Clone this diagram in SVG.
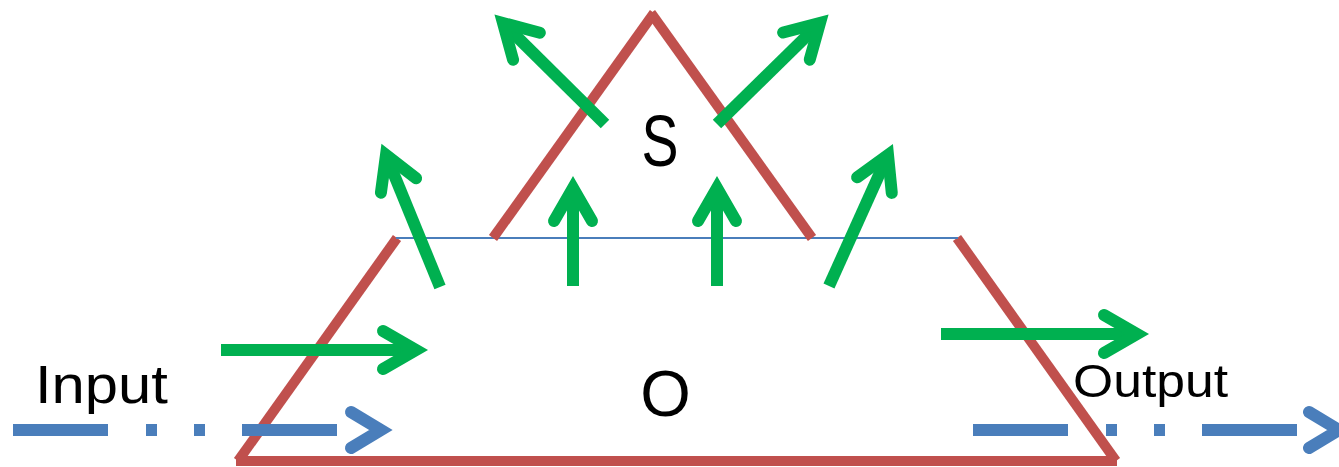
<svg xmlns="http://www.w3.org/2000/svg" width="1339" height="467" viewBox="0 0 1339 467">
  <style>
    .red { stroke: #c0504d; stroke-width: 10; fill: none; stroke-linecap: butt; }
    .base { stroke: #4a7ebb; stroke-width: 2; fill: none; }
    .g { stroke: #00b050; stroke-width: 12; fill: none; stroke-linecap: butt; }
    .blue { stroke: #4a7ebb; stroke-width: 12; fill: none; stroke-linecap: butt; stroke-dasharray: 95 38 11 37 11 37; }
    .bhead { stroke: #4a7ebb; stroke-width: 12; fill: none; stroke-linecap: round; stroke-linejoin: miter; stroke-miterlimit: 10; }
    .lbl { font-family: "Liberation Sans", Arial, sans-serif; fill: #000; }
  </style>
  <defs>
    <marker id="gh" markerUnits="userSpaceOnUse" orient="auto" refX="0" refY="0" markerWidth="1" markerHeight="1" overflow="visible">
      <path d="M-33,-19 L0,0 L-33,19" fill="none" stroke="#00b050" stroke-width="12" stroke-linecap="round" stroke-linejoin="miter" stroke-miterlimit="10"/>
    </marker>
  </defs>

  <g id="node-O">
    <line class="red" x1="397" y1="238" x2="238" y2="461"/>
    <line class="red" x1="236" y1="461" x2="1117" y2="461"/>
    <line class="red" x1="957" y1="238" x2="1116" y2="461"/>
    <line class="base" x1="396" y1="238" x2="958" y2="238"/>
    <text class="lbl" x="665.5" y="416" font-size="65" text-anchor="middle">O</text>
  </g>

  <g id="node-S">
    <line class="red" x1="493" y1="238" x2="654" y2="13"/>
    <line class="red" x1="651" y1="13" x2="812" y2="238"/>
    <text class="lbl" transform="translate(660,166) scale(0.76,1)" x="0" y="0" font-size="73" text-anchor="middle">S</text>
  </g>

  <g id="node-input">
    <text class="lbl" x="35" y="403" font-size="53" textLength="133" lengthAdjust="spacingAndGlyphs">Input</text>
  </g>

  <g id="node-output">
    <text class="lbl" x="1073" y="397" font-size="47" textLength="155" lengthAdjust="spacingAndGlyphs">Output</text>
  </g>

  <g id="connectors">
    <!-- green flows -->
    <line class="g" x1="221" y1="350" x2="416" y2="350" marker-end="url(#gh)"/>
    <line class="g" x1="941" y1="334" x2="1137" y2="334" marker-end="url(#gh)"/>
    <line class="g" x1="573" y1="286" x2="573" y2="188" marker-end="url(#gh)"/>
    <line class="g" x1="717" y1="286" x2="717" y2="188" marker-end="url(#gh)"/>
    <line class="g" x1="440" y1="287" x2="386" y2="155" marker-end="url(#gh)"/>
    <line class="g" x1="829" y1="286" x2="888" y2="155" marker-end="url(#gh)"/>
    <line class="g" x1="605" y1="124" x2="503" y2="23" marker-end="url(#gh)"/>
    <line class="g" x1="717" y1="124" x2="820" y2="23" marker-end="url(#gh)"/>
    <!-- blue input / output -->
    <line class="blue" x1="13" y1="430" x2="337" y2="430"/>
    <polyline class="bhead" points="351,412 381,430 351,448"/>
    <line class="blue" x1="973" y1="430" x2="1297" y2="430"/>
    <polyline class="bhead" points="1309,412 1339,430 1309,448"/>
  </g>
</svg>
